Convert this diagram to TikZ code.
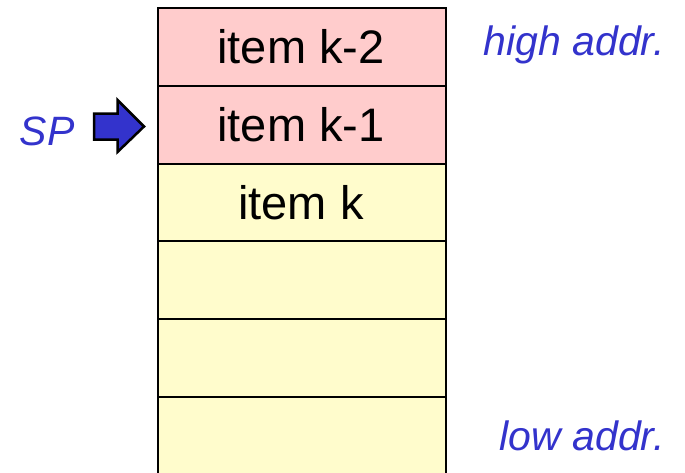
\documentclass[tikz,border=0pt]{standalone}
\usepackage{fontspec}
\setmainfont{Liberation Sans}
\begin{document}
\begin{tikzpicture}[x=1pt,y=-1pt,
  cell/.style={draw=black,line width=2pt,minimum width=288pt,minimum height=78pt,
    inner sep=0pt,anchor=north west},
  hot/.style={cell,fill=red!20},
  cold/.style={cell,fill=yellow!20},
  itemtext/.style={inner sep=0pt,anchor=base,font=\fontsize{47}{50}\selectfont},
  addr/.style={inner sep=0pt,anchor=base,text={rgb,255:red,51;green,51;blue,204},
    font=\fontsize{41}{44}\selectfont\itshape}]
\useasboundingbox (0,0) rectangle (685,472);
\clip (0,0) rectangle (685,472);
% stack cells, top to bottom
\node[hot]  (c1) at (157,7)   {};
\node[hot]  (c2) at (157,85)  {};
\node[cold] (c3) at (157,163) {};
\node[cold] (c4) at (157,240) {};
\node[cold] (c5) at (157,318) {};
\node[cold] (c6) at (157,396) {};
% cell contents
\node[itemtext] (t1) at (301,63)  {item k-2};
\node[itemtext] (t2) at (301,141) {item k-1};
\node[itemtext] (t3) at (301,219) {item k};
% address labels
\node[addr] (hi) at (574,55)  {high addr.};
\node[addr] (lo) at (582,450) {low addr.};
% stack pointer
\node[addr] (sp) at (47,145) {SP};
\filldraw[fill={rgb,255:red,51;green,51;blue,204},draw=black,line width=2.5pt,line join=miter]
  (94,113.5) -- (117.5,113.5) -- (117.5,100) -- (144,126.5) -- (117.5,152) -- (117.5,139.5) -- (94,139.5) -- cycle;
\end{tikzpicture}
\end{document}
